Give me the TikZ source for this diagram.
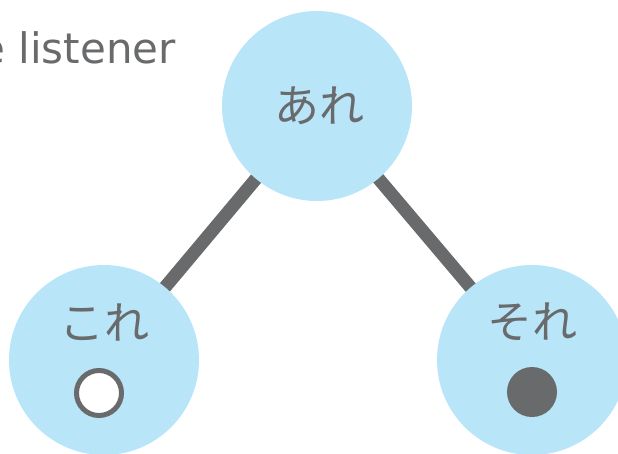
\documentclass[tikz,border=0pt]{standalone}
\usepackage{fontspec}
\setmainfont{DejaVu Sans}
\newfontfamily\jpfont{Noto Sans CJK JP}
\definecolor{cblue}{HTML}{B9E5F9}
\definecolor{cgray}{HTML}{696A6C}
\begin{document}
\begin{tikzpicture}[x=1pt,y=-1pt,
  bubble/.style={circle,fill=cblue,minimum size=190pt,inner sep=0pt},
  jp/.style={text=cgray,font=\jpfont\fontsize{45}{45}\selectfont,inner sep=0pt},
  link/.style={draw=cgray,line width=13pt},
  dotmark/.style={circle,inner sep=0pt}]
\useasboundingbox (0,0) rectangle (618,453);
\coordinate (ca) at (317,106);
\coordinate (cl) at (104,360);
\coordinate (cr) at (532,360);
\draw[link] (ca) -- (cl);
\draw[link] (ca) -- (cr);
\node[bubble] (top) at (ca) {};
\node[bubble] (left) at (cl) {};
\node[bubble] (right) at (cr) {};
\node[jp] (are) at (319,106) {あれ};
\node[jp] (kore) at (104,322) {これ};
\node[jp] (sore) at (532,322) {それ};
\node[dotmark,draw=cgray,line width=5pt,fill=white,minimum size=45pt] (open) at (99,393) {};
\node[dotmark,fill=cgray,minimum size=50pt] (full) at (532,392) {};
\node[anchor=base east,inner sep=0pt,text=cgray,font=\fontsize{42}{42}\selectfont] (lst) at (176,63) {the listener};
\end{tikzpicture}
\end{document}
